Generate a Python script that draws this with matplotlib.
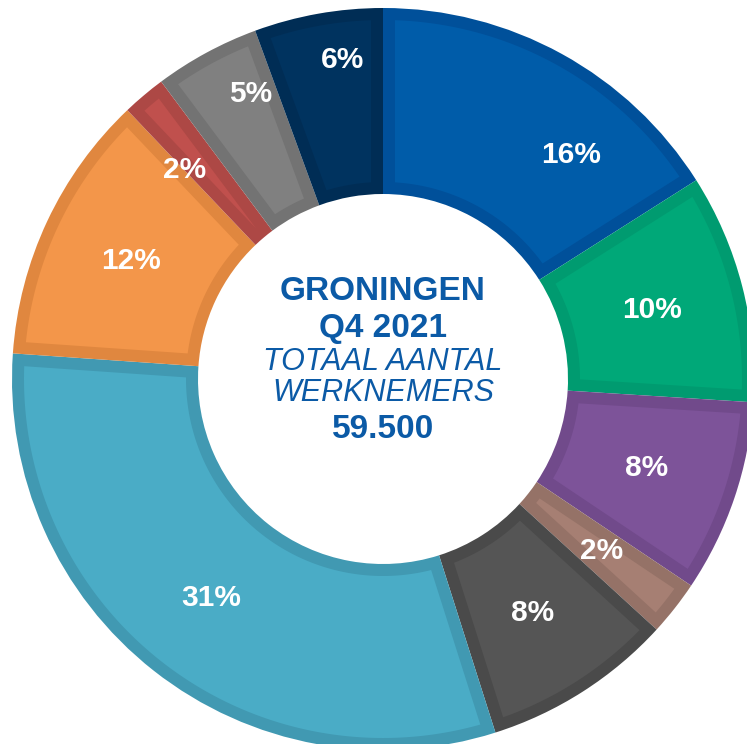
import math

import matplotlib
matplotlib.use("Agg")
import matplotlib.pyplot as plt
from matplotlib.patches import Polygon

# shares (labels are the rounded values printed on it)
labels = ["16%", "10%", "8%", "2%", "8%", "31%", "12%", "2%", "5%", "6%"]
shares = [16.0, 10.0, 8.4, 2.4, 8.3, 31.0, 11.8, 1.9, 4.6, 5.6]

fills = ["#005CA9", "#00A878", "#7D5399", "#A67F73", "#555555",
         "#4AACC6", "#F3964A", "#C0504D", "#808080", "#00335F"]
edges = ["#00509A", "#009B70", "#714A8B", "#957267", "#4A4A4A",
         "#4199B2", "#E0873F", "#AD4845", "#737373", "#002D55"]

center_lines = ["GRONINGEN", "Q4 2021", "TOTAAL AANTAL", "WERKNEMERS", "59.500"]

W, H = 747, 744
CX, CY = 383, 379          # ring centre in image pixels
R_OUT, R_IN = 371, 185
BORDER = 12                # inner border width, px
TEXT_BLUE = "#0B5AA6"

plt.rcParams["font.family"] = ["Liberation Sans", "DejaVu Sans"]

fig = plt.figure(figsize=(W / 100, H / 100), dpi=100)
ax = fig.add_axes([0, 0, 1, 1])

# outer segments in the darker border colour
wedges, _ = ax.pie(
    shares,
    colors=edges,
    startangle=90,
    counterclock=False,
    radius=R_OUT,
    center=(CX, H - CY),
    wedgeprops=dict(width=R_OUT - R_IN, linewidth=0),
)


def inset_region(t1, t2, cx, cy):
    """annular sector shrunk by BORDER on every side (radial sides kept parallel)"""
    r_o, r_i = R_OUT - BORDER, R_IN + BORDER
    pts = []
    for r, rev in ((r_o, False), (r_i, True)):
        d = math.degrees(math.asin(BORDER / r))
        a, b = t1 + d, t2 - d
        if b <= a:
            m = (t1 + t2) / 2
            a = b = m
        n = max(2, int((b - a) * 2) + 2)
        angs = [a + (b - a) * k / (n - 1) for k in range(n)]
        if rev:
            angs = angs[::-1]
        pts += [(cx + r * math.cos(math.radians(t)), cy + r * math.sin(math.radians(t)))
                for t in angs]
    return pts


for w, fc in zip(wedges, fills):
    cx, cy = w.center
    ax.add_patch(Polygon(inset_region(w.theta1, w.theta2, cx, cy),
                         closed=True, facecolor=fc, edgecolor="none"))

# a few labels were moved by hand in the original
nudges = {0: (54, 20), 7: (-19, 4), 8: (0, -41), 9: (8, -45)}
r_lab = (R_OUT + R_IN) / 2
for i, (w, lab) in enumerate(zip(wedges, labels)):
    mid = math.radians((w.theta1 + w.theta2) / 2)
    x = CX + r_lab * math.cos(mid)
    y = (H - CY) + r_lab * math.sin(mid)
    dx, dy = nudges.get(i, (0, 0))
    ax.text(x + dx, y - dy, lab, ha="center", va="center",
            color="white", fontsize=21.5, fontweight="bold")

# centre title
line_y = [291, 328, 362, 393, 429]
styles = [("bold", "normal", 24), ("bold", "normal", 24),
          ("normal", "italic", 22), ("normal", "italic", 22),
          ("bold", "normal", 24)]
for txt, yy, (fw, fs_style, size) in zip(center_lines, line_y, styles):
    ax.text(CX, H - yy, txt, ha="center", va="center", color=TEXT_BLUE,
            fontsize=size, fontweight=fw, fontstyle=fs_style)

ax.set_xlim(0, W)
ax.set_ylim(0, H)
ax.set_aspect("equal")
ax.axis("off")

fig.savefig("out.png", dpi=100)
plt.close(fig)
